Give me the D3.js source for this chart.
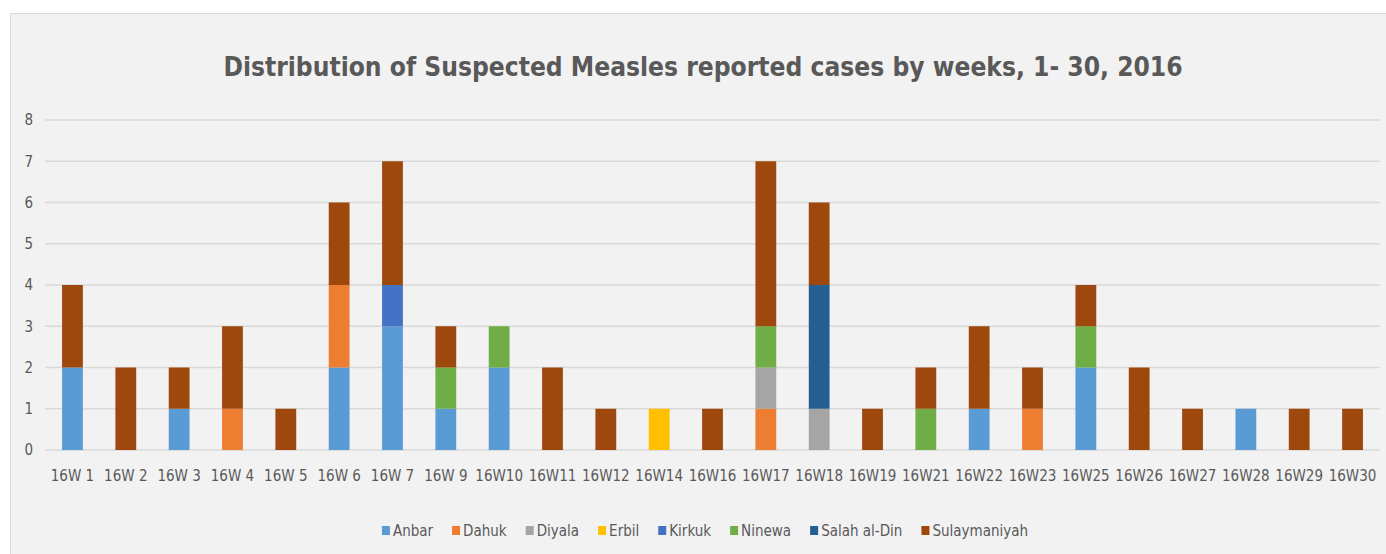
<!DOCTYPE html>
<html>
<head>
<meta charset="utf-8">
<script src="https://cdn.jsdelivr.net/npm/d3@7"></script>
<style>
  body { margin: 0; background: #fff; }
  text { font-family: "Liberation Sans Narrow", "DejaVu Sans Condensed", "Open Sans", sans-serif; }
</style>
</head>
<body>
<div id="chart"></div>
<script>
// ---------------- data ----------------
const weeks = ['16W 1', '16W 2', '16W 3', '16W 4', '16W 5', '16W 6', '16W 7', '16W 9', '16W10', '16W11',
    '16W12', '16W14', '16W16', '16W17', '16W18', '16W19', '16W21', '16W22', '16W23', '16W25',
    '16W26', '16W27', '16W28', '16W29', '16W30'];

const governorates = ['Anbar', 'Dahuk', 'Diyala', 'Erbil', 'Kirkuk', 'Ninewa', 'Salah al-Din', 'Sulaymaniyah'];

const anbar        = [2, 0, 1, 0, 0, 2, 3, 1, 2, 0, 0, 0, 0, 0, 0, 0, 0, 1, 0, 2, 0, 0, 1, 0, 0];
const dahuk        = [0, 0, 0, 1, 0, 2, 0, 0, 0, 0, 0, 0, 0, 1, 0, 0, 0, 0, 1, 0, 0, 0, 0, 0, 0];
const diyala       = [0, 0, 0, 0, 0, 0, 0, 0, 0, 0, 0, 0, 0, 1, 1, 0, 0, 0, 0, 0, 0, 0, 0, 0, 0];
const erbil        = [0, 0, 0, 0, 0, 0, 0, 0, 0, 0, 0, 1, 0, 0, 0, 0, 0, 0, 0, 0, 0, 0, 0, 0, 0];
const kirkuk       = [0, 0, 0, 0, 0, 0, 1, 0, 0, 0, 0, 0, 0, 0, 0, 0, 0, 0, 0, 0, 0, 0, 0, 0, 0];
const ninewa       = [0, 0, 0, 0, 0, 0, 0, 1, 1, 0, 0, 0, 0, 1, 0, 0, 1, 0, 0, 1, 0, 0, 0, 0, 0];
const salahAlDin   = [0, 0, 0, 0, 0, 0, 0, 0, 0, 0, 0, 0, 0, 0, 3, 0, 0, 0, 0, 0, 0, 0, 0, 0, 0];
const sulaymaniyah = [2, 2, 1, 2, 1, 2, 3, 1, 0, 2, 1, 0, 1, 4, 2, 1, 1, 2, 1, 1, 2, 1, 0, 1, 1];

const yTicks = [0, 1, 2, 3, 4, 5, 6, 7, 8];

const colors = ['#5b9bd5', '#ed7d31', '#a5a5a5', '#ffc000', '#4472c4', '#70ad47', '#255e91', '#9e480e'];

// ---------------- chart ----------------
const width = 1386;
const height = 554;
const margin = { top: 120, right: 6, bottom: 104, left: 45 };

const seriesValues = [anbar, dahuk, diyala, erbil, kirkuk, ninewa, salahAlDin, sulaymaniyah];
const table = weeks.map((w, i) => {
    const row = { week: w };
    governorates.forEach((g, j) => { row[g] = seriesValues[j][i]; });
    return row;
});
const stacked = d3.stack().keys(governorates)(table);

const svg = d3.select('#chart')
    .append('svg')
    .attr('width', width)
    .attr('height', height);

// chart area frame
svg.append('rect')
    .attr('x', 10.5)
    .attr('y', 13.5)
    .attr('width', width)
    .attr('height', height)
    .attr('fill', '#f2f2f2')
    .attr('stroke', '#d9d9d9');

const x = d3.scaleBand()
    .domain(weeks)
    .range([margin.left, width - margin.right])
    .paddingInner(0.61)
    .paddingOuter(0.32);

const y = d3.scaleLinear()
    .domain([0, 8])
    .range([height - margin.bottom, margin.top]);

// gridlines
svg.append('g')
    .selectAll('line')
    .data(yTicks)
    .enter()
    .append('line')
    .attr('x1', margin.left)
    .attr('x2', width - margin.right)
    .attr('y1', d => y(d))
    .attr('y2', d => y(d))
    .style('stroke', '#d9d9d9')
    .style('stroke-width', 1.5);

// y axis
const yAxis = svg.append('g')
    .attr('transform', `translate(${margin.left - 12},0)`)
    .call(d3.axisLeft(y).tickValues(yTicks).tickSize(0).tickPadding(0));
yAxis.select('.domain').remove();
yAxis.selectAll('text')
    .attr('fill', '#595959')
    .attr('font-size', '15px');

// bars
svg.append('g')
    .selectAll('g')
    .data(stacked)
    .enter()
    .append('g')
    .attr('fill', (d, i) => colors[i])
    .selectAll('rect')
    .data(d => d.filter(s => s[1] > s[0]))
    .enter()
    .append('rect')
    .attr('x', d => x(d.data.week))
    .attr('width', x.bandwidth())
    .attr('y', d => y(d[1]))
    .attr('height', d => y(d[0]) - y(d[1]));

// x axis
const xAxis = svg.append('g')
    .attr('transform', `translate(0,${height - margin.bottom})`)
    .call(d3.axisBottom(x).tickSize(0).tickPadding(20));
xAxis.select('.domain').remove();
xAxis.selectAll('text')
    .attr('fill', '#595959')
    .attr('font-size', '15px');

// title, sized to span the same width as the original
const title = svg.append('text')
    .attr('x', 703)
    .attr('y', 76)
    .attr('text-anchor', 'middle')
    .attr('font-size', '34px')
    .attr('font-weight', 'bold')
    .attr('fill', '#595959')
    .text('Distribution of Suspected Measles reported cases by weeks, 1- 30, 2016');
const titleLen = title.node().getComputedTextLength();
title.attr('font-size', (34 * 960 / titleLen) + 'px');

// legend
const legend = svg.append('g');
let lx = 0;
governorates.forEach((g, i) => {
    const item = legend.append('g').attr('transform', `translate(${lx},0)`);
    item.append('rect')
        .attr('x', 0)
        .attr('y', -5)
        .attr('width', 8)
        .attr('height', 9)
        .attr('fill', colors[i]);
    const t = item.append('text')
        .attr('x', 11)
        .attr('y', 0)
        .attr('dominant-baseline', 'central')
        .attr('font-size', '15px')
        .attr('fill', '#595959')
        .text(g);
    lx += 11 + t.node().getComputedTextLength() + 19;
});
const legendWidth = lx - 19;
legend.attr('transform', `translate(${705 - legendWidth / 2},531)`);
</script>
</body>
</html>
